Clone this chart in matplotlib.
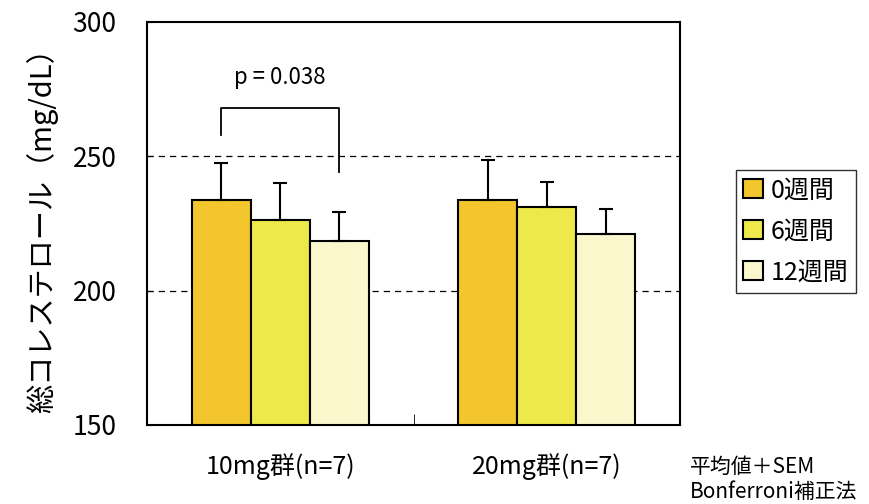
import matplotlib
matplotlib.use("Agg")
import matplotlib.pyplot as plt
import numpy as np

plt.rcParams['font.family'] = ['Noto Sans CJK JP', 'DejaVu Sans']

# Data
groups = ['10mg群(n=7)', '20mg群(n=7)']
series = ['0週間', '6週間', '12週間']
means = [
    [233.8, 233.8],   # 0 weeks
    [226.3, 231.1],   # 6 weeks
    [218.5, 221.1],   # 12 weeks
]
sem = [
    [13.7, 14.8],
    [13.7, 9.5],
    [10.8, 9.3],
]
colors = ['#F3C62E', '#EDE94A', '#FAF7CC']

fig = plt.figure(figsize=(8.7, 5.04), dpi=100)
ax = fig.add_axes([147 / 870, 79 / 504, 533 / 870, 403 / 504])

width = 0.221
centers = np.array([0.5, 1.5])
for i, (m, e, c) in enumerate(zip(means, sem, colors)):
    x = centers + (i - 1) * width
    ax.bar(x, np.array(m) - 150, width, bottom=150, color=c, edgecolor='black',
           linewidth=1.5, label=series[i], zorder=3)
    ax.errorbar(x, m, yerr=[np.zeros(2), e], fmt='none', ecolor='black',
                elinewidth=1.5, capsize=5, capthick=1.5, zorder=4)

# gridlines
for g in [200, 250]:
    ax.axhline(g, color='black', linestyle=(0, (5, 4)), linewidth=0.9, zorder=1)

# significance bracket
xl = centers[0] - width
xr = centers[0] + width
ax.plot([xl, xl, xr, xr], [258, 268, 268, 244.2], color='black', linewidth=1.3, zorder=5)
ax.text((xl + xr) / 2, 279.2, 'p = 0.038', ha='center', va='center', fontsize=16)

ax.set_xlim(0, 2)
ax.set_ylim(150, 300)
ax.set_yticks([150, 200, 250, 300])
ax.tick_params(axis='y', direction='in', length=4, labelsize=19, pad=22)
ax.set_xticks(centers)
ax.set_xticklabels(groups, fontsize=18)
ax.tick_params(axis='x', length=0, pad=20)
ax.set_xticks([1], minor=True)
ax.tick_params(axis='x', which='minor', direction='in', length=8)
for s in ax.spines.values():
    s.set_linewidth(1.5)

ax.set_ylabel('総コレステロール（mg/dL）', fontsize=21, labelpad=10)

leg = ax.legend(loc='upper left', bbox_to_anchor=(736 / 870, 1 - 170 / 504),
                bbox_transform=fig.transFigure, fontsize=18, frameon=True,
                fancybox=False, edgecolor='black', handlelength=0.8,
                handleheight=0.8, handletextpad=0.3, borderpad=0.3,
                labelspacing=0.6, borderaxespad=0)
leg.get_frame().set_linewidth(1.0)

fig.text(690 / 870, 1 - 467 / 504, '平均値＋SEM', fontsize=15, va='center')
fig.text(690 / 870, 1 - 492 / 504, 'Bonferroni補正法', fontsize=15, va='center')

fig.savefig('out.png', dpi=100)
